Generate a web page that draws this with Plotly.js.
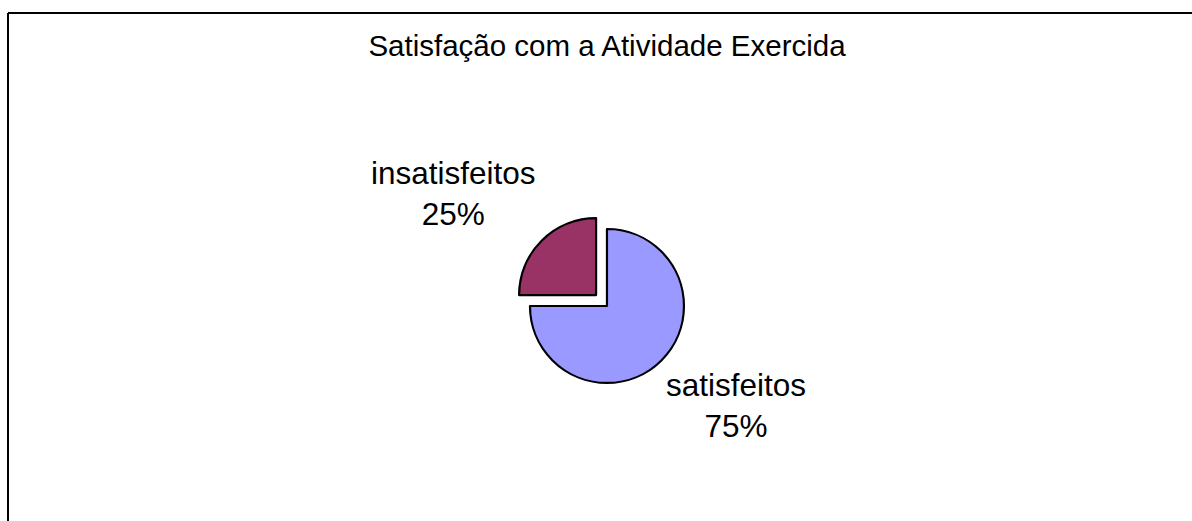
<!DOCTYPE html>
<html>
<head>
<meta charset="utf-8">
<script src="https://cdn.plot.ly/plotly-3.0.1.min.js"></script>
<style>html,body{margin:0;padding:0;background:#fff;}#chart{width:1192px;height:521px;}</style>
</head>
<body>
<div id="chart"></div>
<script>
const titleText = "Satisfação com a Atividade Exercida";
const categories = ["satisfeitos", "insatisfeitos"];
const values = [75, 25];
const sliceColors = ["#9999FF", "#993366"];
const pulls = [0, 0.2];
// label anchor positions (paper fractions) for the outside labels
const labelPos = [[736 / 1192, 1 - 405 / 521], [453 / 1192, 1 - 193 / 521]];

const total = values.reduce((a, b) => a + b, 0);
const W = 1192, H = 521;

const trace = {
  type: "pie",
  labels: categories,
  values: values,
  sort: false,
  direction: "clockwise",
  rotation: 0,
  pull: pulls,
  textinfo: "none",
  hoverinfo: "label+percent",
  marker: { colors: sliceColors, line: { color: "#000000", width: 2.2 } },
  domain: { x: [0.4317, 0.5867], y: [0.2353, 0.5901] },
  showlegend: false
};

const annotations = categories.map((c, i) => ({
  xref: "paper", yref: "paper",
  x: labelPos[i][0], y: labelPos[i][1],
  xanchor: "center", yanchor: "middle",
  text: c + "<br>" + Math.round(values[i] / total * 100) + "%",
  showarrow: false,
  align: "center",
  font: { family: "Liberation Sans, Arial, sans-serif", size: 31.5, color: "#000" }
}));

const layout = {
  width: W, height: H,
  margin: { l: 0, r: 0, t: 0, b: 0 },
  paper_bgcolor: "#ffffff",
  title: {
    text: titleText,
    x: 607 / W, xanchor: "center", xref: "paper",
    y: 1 - 46 / H, yanchor: "middle", yref: "paper",
    font: { family: "Liberation Sans, Arial, sans-serif", size: 29.5, color: "#000" }
  },
  annotations: annotations,
  shapes: [
    { type: "line", xref: "paper", yref: "paper", x0: 8 / W, x1: 8 / W, y0: 0, y1: 1 - 13 / H, line: { color: "#000", width: 2 } },
    { type: "line", xref: "paper", yref: "paper", x0: 8 / W, x1: 1, y0: 1 - 13 / H, y1: 1 - 13 / H, line: { color: "#000", width: 2 } }
  ]
};

Plotly.newPlot("chart", [trace], layout, { displayModeBar: false, staticPlot: true });
</script>
</body>
</html>
